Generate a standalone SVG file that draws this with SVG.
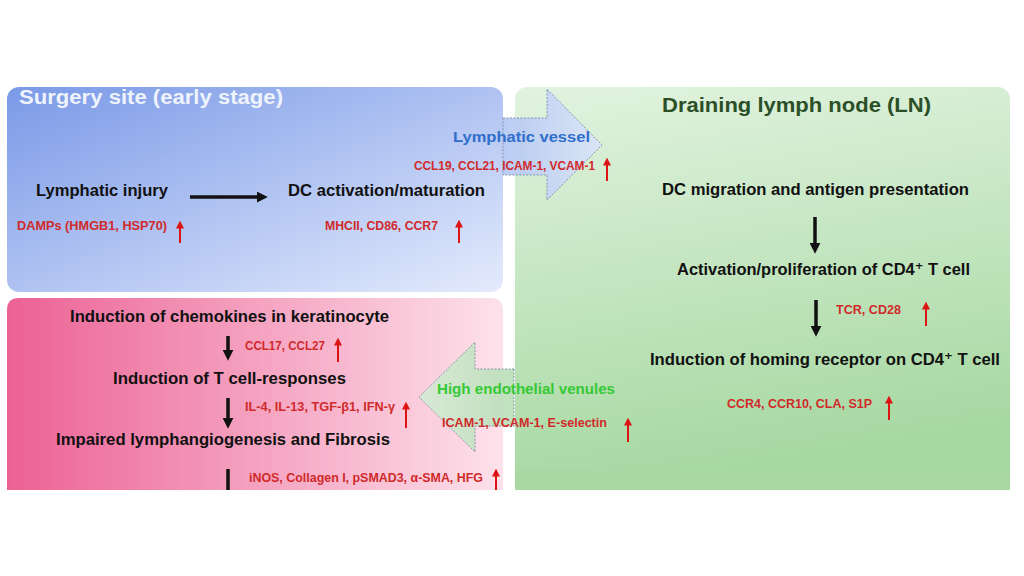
<svg xmlns="http://www.w3.org/2000/svg" width="1024" height="576" viewBox="0 0 1024 576">
<style>
text{font-family:"Liberation Sans","DejaVu Sans",Arial,sans-serif;}
.lb{font-weight:bold;font-size:17px;fill:#111;}
.rd{font-weight:bold;font-size:12.5px;fill:#d02a2a;}
.blk{stroke:#111;stroke-width:3.5;fill:none;}
.red{stroke:#dd1414;stroke-width:2;fill:none;}
</style>
<defs>
<linearGradient id="gBlue" x1="0" y1="0" x2="1" y2="1">
<stop offset="0" stop-color="#7a99e7"/><stop offset="1" stop-color="#e4ebfc"/>
</linearGradient>
<linearGradient id="gPink" x1="0" y1="0" x2="1" y2="0">
<stop offset="0" stop-color="#ec6194"/><stop offset="1" stop-color="#fde2eb"/>
</linearGradient>
<linearGradient id="gGreen" x1="0" y1="0" x2="0.2" y2="1">
<stop offset="0" stop-color="#e2f3e0"/><stop offset="1" stop-color="#a6d8a1"/>
</linearGradient>
<linearGradient id="gLV" x1="0" y1="0" x2="1" y2="0">
<stop offset="0" stop-color="#b3c6f3"/><stop offset="1" stop-color="#dbe4f9"/>
</linearGradient>
<linearGradient id="gHEV" x1="0" y1="0" x2="1" y2="0">
<stop offset="0" stop-color="#d6ecd6"/><stop offset="1" stop-color="#b6deb6"/>
</linearGradient>
<marker id="ah" viewBox="0 0 10 10" refX="2" refY="5" markerWidth="11" markerHeight="11" markerUnits="userSpaceOnUse" orient="auto">
<path d="M0,0 L10,5 L0,10 z" fill="#111"/>
</marker>
<marker id="rh" viewBox="0 0 10 10" refX="2" refY="5" markerWidth="8" markerHeight="8" markerUnits="userSpaceOnUse" orient="auto">
<path d="M0,0 L10,5 L0,10 z" fill="#dd1414"/>
</marker>
</defs>
<rect width="1024" height="576" fill="#fff"/>

<g id="surgery-site">
<rect x="7" y="87" width="496" height="205" rx="12" fill="url(#gBlue)"/>
<text x="19" y="104" font-size="20" font-weight="bold" fill="#eef3fc" textLength="264" lengthAdjust="spacingAndGlyphs">Surgery site (early stage)</text>
</g>
<g id="lymphatic-injury">
<text class="lb" x="36" y="196" textLength="132" lengthAdjust="spacingAndGlyphs">Lymphatic injury</text>
<text class="rd" x="17" y="230" textLength="150" lengthAdjust="spacingAndGlyphs">DAMPs (HMGB1, HSP70)</text>
</g>
<g id="dc-activation">
<text class="lb" x="288" y="196" textLength="197" lengthAdjust="spacingAndGlyphs">DC activation/maturation</text>
<text class="rd" x="325" y="230" textLength="113" lengthAdjust="spacingAndGlyphs">MHCII, CD86, CCR7</text>
</g>

<g id="lymph-node">
<rect x="515" y="87" width="495" height="403" rx="12" fill="url(#gGreen)"/>
<rect x="515" y="470" width="495" height="20" fill="#a8d9a3"/>
<text x="662" y="112" font-size="21" font-weight="bold" fill="#2b4f27" textLength="269" lengthAdjust="spacingAndGlyphs">Draining lymph node (LN)</text>
</g>
<g id="dc-migration">
<text class="lb" x="662" y="195" textLength="307" lengthAdjust="spacingAndGlyphs">DC migration and antigen presentation</text>
</g>
<g id="cd4-activation">
<text class="lb" x="677" y="275" textLength="293" lengthAdjust="spacingAndGlyphs">Activation/proliferation of CD4⁺ T cell</text>
<text class="rd" x="836" y="314" textLength="65" lengthAdjust="spacingAndGlyphs">TCR, CD28</text>
</g>
<g id="homing-receptor">
<text class="lb" x="650" y="365" textLength="350" lengthAdjust="spacingAndGlyphs">Induction of homing receptor on CD4⁺ T cell</text>
<text class="rd" x="727" y="408" textLength="145" lengthAdjust="spacingAndGlyphs">CCR4, CCR10, CLA, S1P</text>
</g>

<g id="skin-response">
<path d="M7,490 V310 Q7,298 19,298 H491 Q503,298 503,310 V490 Z" fill="url(#gPink)"/>
</g>
<g id="chemokines">
<text class="lb" x="70" y="322" textLength="319" lengthAdjust="spacingAndGlyphs">Induction of chemokines in keratinocyte</text>
<text class="rd" x="245" y="350" textLength="80" lengthAdjust="spacingAndGlyphs">CCL17, CCL27</text>
</g>
<g id="t-cell-responses">
<text class="lb" x="113" y="384" textLength="233" lengthAdjust="spacingAndGlyphs">Induction of T cell-responses</text>
<text class="rd" x="245" y="411" textLength="150" lengthAdjust="spacingAndGlyphs">IL-4, IL-13, TGF-β1, IFN-γ</text>
</g>
<g id="fibrosis">
<text class="lb" x="56" y="445" textLength="334" lengthAdjust="spacingAndGlyphs">Impaired lymphangiogenesis and Fibrosis</text>
<text class="rd" x="249" y="482" textLength="234" lengthAdjust="spacingAndGlyphs">iNOS, Collagen I, pSMAD3, α-SMA, HFG</text>
</g>

<g id="connectors">
<g id="lymphatic-vessel">
<path d="M503,118 H547 V89 L602,145 L547,200 V175 H503 Z" fill="url(#gLV)" fill-opacity="0.9" stroke="#8594b0" stroke-width="1" stroke-dasharray="2,1.5"/>
<text x="453" y="142" font-size="15" font-weight="bold" fill="#2f6fcc" textLength="137" lengthAdjust="spacingAndGlyphs">Lymphatic vessel</text>
<text class="rd" x="414" y="170" textLength="181" lengthAdjust="spacingAndGlyphs">CCL19, CCL21, ICAM-1, VCAM-1</text>
</g>
<g id="high-endothelial-venules">
<path d="M514,369 H475 V342 L419,397 L475,452 V426 H514 Z" fill="url(#gHEV)" fill-opacity="0.9" stroke="#8a97a8" stroke-width="1" stroke-dasharray="2,1.5"/>
<text x="437" y="394" font-size="15" font-weight="bold" fill="#35c935" textLength="178" lengthAdjust="spacingAndGlyphs">High endothelial venules</text>
<text class="rd" x="442" y="427" textLength="165" lengthAdjust="spacingAndGlyphs">ICAM-1, VCAM-1, E-selectin</text>
</g>
<line class="blk" x1="190" y1="197" x2="259" y2="197" stroke-width="4" marker-end="url(#ah)"/>
<line class="blk" x1="815" y1="217" x2="815" y2="245" marker-end="url(#ah)"/>
<line class="blk" x1="816" y1="300" x2="816" y2="328" marker-end="url(#ah)"/>
<line class="blk" x1="228" y1="336" x2="228" y2="352" marker-end="url(#ah)"/>
<line class="blk" x1="228" y1="398" x2="228" y2="420" marker-end="url(#ah)"/>
<line class="blk" x1="228" y1="469" x2="228" y2="490"/>
</g>

<g id="increase-indicators">
<line class="red" x1="180" y1="243" x2="180" y2="227" marker-end="url(#rh)"/>
<line class="red" x1="459" y1="243" x2="459" y2="226" marker-end="url(#rh)"/>
<line class="red" x1="607" y1="181" x2="607" y2="164" marker-end="url(#rh)"/>
<line class="red" x1="926" y1="326" x2="926" y2="308" marker-end="url(#rh)"/>
<line class="red" x1="889" y1="420" x2="889" y2="402" marker-end="url(#rh)"/>
<line class="red" x1="628" y1="442" x2="628" y2="424" marker-end="url(#rh)"/>
<line class="red" x1="338" y1="362" x2="338" y2="344" marker-end="url(#rh)"/>
<line class="red" x1="406" y1="428" x2="406" y2="408" marker-end="url(#rh)"/>
<line class="red" x1="496" y1="490" x2="496" y2="475" marker-end="url(#rh)"/>
</g>
</svg>
